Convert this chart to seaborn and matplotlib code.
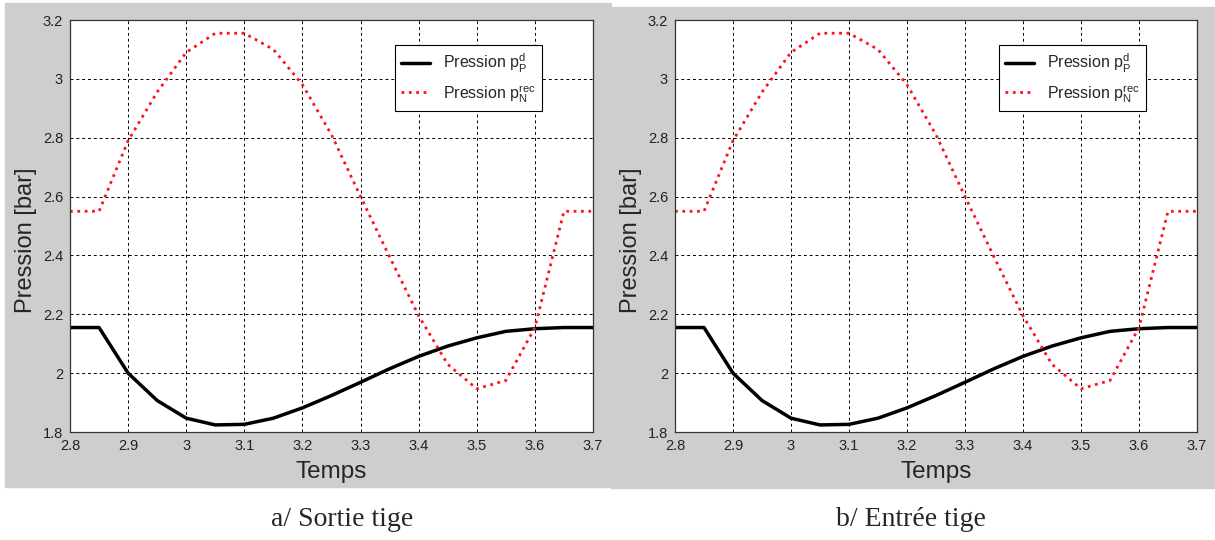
import pandas as pd
import seaborn as sns
import matplotlib.pyplot as plt
from matplotlib.patches import Rectangle

# valeurs (identiques pour les deux essais)
temps = [2.80, 2.85, 2.90, 2.95, 3.00, 3.05, 3.10, 3.15, 3.20, 3.25,
         3.30, 3.35, 3.40, 3.45, 3.50, 3.55, 3.60, 3.65, 3.70]
p_P_d = [2.155, 2.155, 2.000, 1.907, 1.847, 1.824, 1.826, 1.847, 1.882, 1.924,
         1.969, 2.015, 2.057, 2.092, 2.120, 2.142, 2.151, 2.155, 2.155]
p_N_rec = [2.55, 2.55, 2.79, 2.955, 3.09, 3.155, 3.155, 3.10, 2.98, 2.81,
           2.60, 2.395, 2.195, 2.03, 1.947, 1.975, 2.155, 2.55, 2.55]

x_ticks = [2.8, 2.9, 3.0, 3.1, 3.2, 3.3, 3.4, 3.5, 3.6, 3.7]
x_labels = ["2.8", "2.9", "3", "3.1", "3.2", "3.3", "3.4", "3.5", "3.6", "3.7"]
y_ticks = [1.8, 2.0, 2.2, 2.4, 2.6, 2.8, 3.0, 3.2]
y_labels = ["1.8", "2", "2.2", "2.4", "2.6", "2.8", "3", "3.2"]
captions = ["a/ Sortie tige", "b/ Entrée tige"]

df = pd.DataFrame({"Temps": temps, "pd": p_P_d, "prec": p_N_rec})

sns.set_style("white")
plt.rcParams['font.family'] = ['Liberation Sans', 'DejaVu Sans']

fig = plt.figure(figsize=(12.15, 5.4), dpi=100)

# fonds gris façon figure matlab
gris = "#cecece"
fig.add_artist(Rectangle((5 / 1215, 53 / 540), 606 / 1215, 484 / 540,
                         transform=fig.transFigure, color=gris, zorder=0))
fig.add_artist(Rectangle((611 / 1215, 52 / 540), 604 / 1215, 481 / 540,
                         transform=fig.transFigure, color=gris, zorder=0))

panneaux = [(70 / 1215, 523 / 1215, 342 / 1215), (675 / 1215, 522 / 1215, 911 / 1215)]

for (gauche, largeur, xc), titre in zip(panneaux, captions):
    ax = fig.add_axes([gauche, 108 / 540, largeur, 412 / 540])
    ax.set_facecolor("white")
    sns.lineplot(data=df, x="Temps", y="pd", color="black", lw=2.5, ax=ax,
                 label=r"Pression $\mathregular{p_P^d}$")
    sns.lineplot(data=df, x="Temps", y="prec", color="#ff1020", lw=2.0,
                 linestyle=":", ax=ax, label=r"Pression $\mathregular{p_N^{rec}}$")
    ax.set_xlim(2.8, 3.7)
    ax.set_ylim(1.8, 3.2)
    ax.set_xticks(x_ticks, x_labels)
    ax.set_yticks(y_ticks, y_labels)
    ax.grid(True, color="black", linestyle=(0, (3, 3)), lw=0.7)
    ax.tick_params(direction="in", length=4, width=0.8, labelsize=10.5,
                   colors="#333333", labelcolor="#222222", pad=5)
    for s in ax.spines.values():
        s.set_visible(True)
        s.set_color("#333333")
        s.set_linewidth(0.9)
    ax.set_xlabel("Temps", fontsize=17.5)
    ax.set_ylabel("Pression [bar]", fontsize=17)
    ax.xaxis.set_label_coords(0.5, -0.07)
    ax.yaxis.set_label_coords(-0.063, 0.466)
    leg = ax.legend(loc="upper right", bbox_to_anchor=(0.9025, 0.939),
                    borderaxespad=0, fancybox=False, edgecolor="black",
                    framealpha=1, fontsize=11.5, handlelength=1.8)
    leg.get_frame().set_linewidth(0.8)
    fig.text(xc, 20 / 540, titre, ha="center", va="center", fontsize=20,
             family=["Liberation Serif", "DejaVu Serif"])

fig.savefig("out.png", dpi=100)
